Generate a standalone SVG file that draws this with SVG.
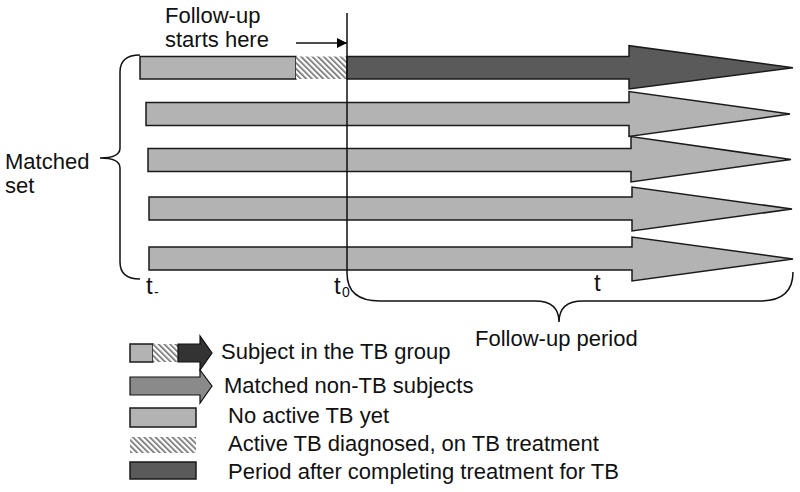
<svg xmlns="http://www.w3.org/2000/svg" width="800" height="492" viewBox="0 0 800 492">
<defs>
<pattern id="hatch" patternUnits="userSpaceOnUse" width="4" height="4" patternTransform="rotate(-45)">
<rect width="4" height="4" fill="#ffffff"/>
<rect x="0" y="0" width="1.6" height="4" fill="#6e6e6e"/>
</pattern>
<marker id="ah" viewBox="0 0 10 10" refX="10" refY="5" markerWidth="10" markerHeight="10" markerUnits="userSpaceOnUse" orient="auto">
<path d="M0,0 L10,5 L0,10 Z" fill="#000"/>
</marker>
<style>
.t{font-family:"Liberation Sans",Arial,sans-serif;fill:#111;font-size:22px}
.big{font-size:24px}
.sub{font-size:14px}
.light{fill:#b3b3b3;stroke:#1a1a1a;stroke-width:1.5}
.dark{fill:#5a5a5a;stroke:#1a1a1a;stroke-width:1.5}
.ln{fill:none;stroke:#111;stroke-width:1.5}
</style>
</defs>
<rect width="800" height="492" fill="#fff"/>

<g id="arrow-tb">
<rect x="140" y="56.5" width="156" height="22.5" class="light"/>
<rect x="296" y="56.5" width="51" height="22.5" fill="url(#hatch)"/>
<path d="M347,56.5 H629 V45.7 L793,67.7 L629,89 V79 H347 Z" class="dark"/>
</g>
<g id="arrow-2"><path d="M146,102.5 H629 V91.5 L790,114 L629,136.5 V125.5 H146 Z" class="light"/></g>
<g id="arrow-3"><path d="M148,148.5 H631 V136.5 L791,159.5 L631,182 V171.5 H148 Z" class="light"/></g>
<g id="arrow-4"><path d="M149,197 H632 V187 L792,209 L632,231 V220 H149 Z" class="light"/></g>
<g id="arrow-5"><path d="M149,247 H632 V237 L793,259 L632,281 V270 H149 Z" class="light"/></g>

<g id="connectors">
<path d="M296,43 H347" class="ln" marker-end="url(#ah)"/>
<path d="M347,13 V273 Q347,301 380,301 H535 Q559,301 559,322 Q559,301 583,301 H760 Q793,301 793,272" class="ln"/>
<path d="M140,55 Q120,55 120,72 V148 Q120,158 100,158 Q120,158 120,168 V262 Q120,279 140,279" class="ln"/>
</g>

<g id="labels">
<text class="t" x="165" y="23">Follow-up</text>
<text class="t" x="165" y="47">starts here</text>
<text class="t" x="5" y="169">Matched</text>
<text class="t" x="5" y="193">set</text>
<text class="t big" x="146" y="294">t</text>
<text class="t sub" x="154" y="297">-</text>
<text class="t big" x="334" y="294">t</text>
<text class="t sub" x="342" y="297">0</text>
<text class="t big" x="594" y="291">t</text>
<text class="t" x="475" y="346">Follow-up period</text>
</g>

<g id="legend">
<g id="legend-tb">
<rect x="130" y="344" width="23" height="18" class="light"/>
<rect x="153" y="344" width="25" height="18" fill="url(#hatch)"/>
<path d="M178,344 H200 V336 L212,353 L200,370 V362 H178 Z" fill="#333" stroke="#111" stroke-width="1.2"/>
<text class="t" x="221" y="359">Subject in the TB group</text>
</g>
<g id="legend-nontb">
<path d="M130,377 H200 V370 L212,386 L200,403 V395 H130 Z" fill="#8a8a8a" stroke="#111" stroke-width="1.2"/>
<text class="t" x="224" y="393">Matched non-TB subjects</text>
</g>
<g id="legend-noactive">
<rect x="130" y="408" width="66" height="19" class="light"/>
<text class="t" x="228" y="423">No active TB yet</text>
</g>
<g id="legend-active">
<rect x="130" y="437" width="66" height="16" fill="url(#hatch)"/>
<text class="t" x="228" y="451">Active TB diagnosed, on TB treatment</text>
</g>
<g id="legend-after">
<rect x="130" y="462" width="66" height="17" class="dark"/>
<text class="t" x="228" y="479">Period after completing treatment for TB</text>
</g>
</g>
</svg>
